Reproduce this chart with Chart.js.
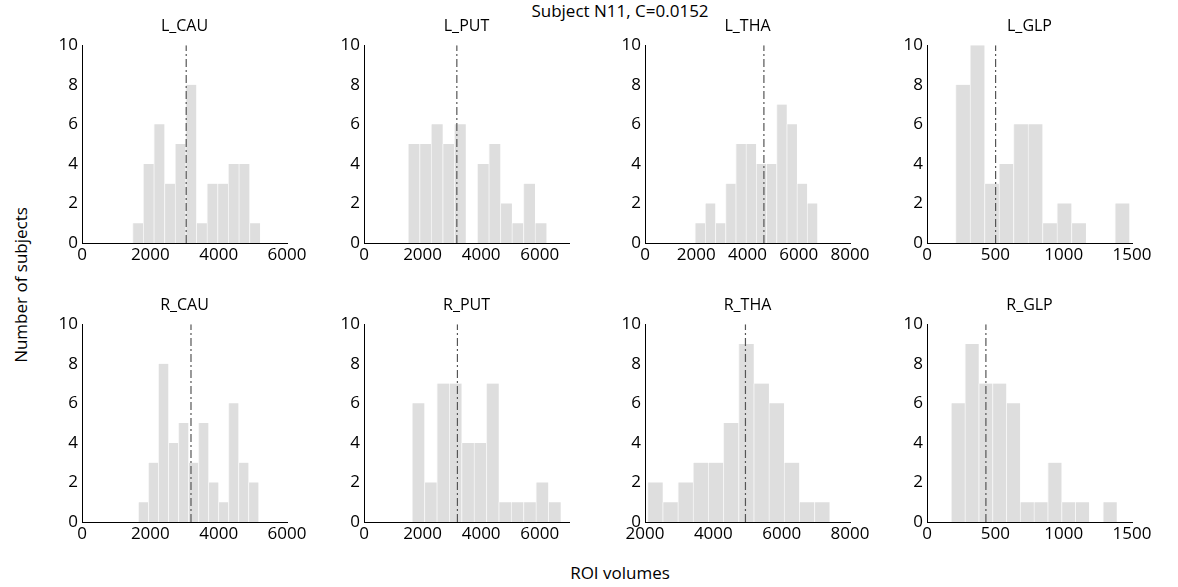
<!DOCTYPE html>
<html>
<head>
<meta charset="utf-8">
<script src="https://cdn.jsdelivr.net/npm/chart.js@4.4.0/dist/chart.umd.min.js"></script>
<style>
    body { margin: 0; background: #fff; width: 1178px; height: 587px; position: relative; overflow: hidden; font-family: 'Open Sans', sans-serif; color: #000; }
    .panel { position: absolute; }
    #suptitle { position: absolute; left: 470px; width: 300px; top: 0px; text-align: center; font-size: 17px; line-height: 22px; }
    #ylabel { position: absolute; left: 20px; top: 285px; transform: translate(-50%, -50%) rotate(-90deg); font-size: 17px; white-space: nowrap; }
    #xlabel { position: absolute; left: 620px; top: 572px; transform: translate(-50%, -50%); font-size: 17px; white-space: nowrap; }
</style>
</head>
<body>
<div id="suptitle">Subject N11, C=0.0152</div>
<div id="ylabel">Number of subjects</div>
<div id="xlabel">ROI volumes</div>

<script>
const panelTitles = ['L_CAU', 'L_PUT', 'L_THA', 'L_GLP', 'R_CAU', 'R_PUT', 'R_THA', 'R_GLP'];

// histogram bin centres (ROI volume) and number of subjects per bin
const binsLCAU = [1636, 1947, 2258, 2569, 2880, 3191, 3502, 3813, 4124, 4435, 4746, 5057];
const countsLCAU = [1, 4, 6, 3, 5, 8, 1, 3, 3, 4, 4, 1];
const binsLPUT = [1702, 2096, 2490, 2884, 3278, 3672, 4066, 4460, 4854, 5248, 5642, 6036];
const countsLPUT = [5, 5, 6, 5, 6, 0, 4, 5, 2, 1, 3, 1];
const binsLTHA = [2149, 2547, 2945, 3343, 3741, 4139, 4537, 4935, 5333, 5731, 6129, 6527];
const countsLTHA = [1, 2, 1, 3, 5, 5, 4, 4, 7, 6, 3, 2];
const binsLGLP = [262, 368, 474, 580, 686, 792, 898, 1004, 1110, 1216, 1322, 1428];
const countsLGLP = [8, 10, 3, 4, 6, 6, 1, 2, 1, 0, 0, 2];
const binsRCAU = [1796, 2089, 2382, 2675, 2968, 3261, 3554, 3847, 4140, 4433, 4726, 5019];
const countsRCAU = [1, 3, 8, 4, 5, 3, 5, 2, 1, 6, 3, 2];
const binsRPUT = [1852, 2275, 2698, 3121, 3544, 3967, 4390, 4813, 5236, 5659, 6082, 6505];
const countsRPUT = [6, 2, 7, 7, 4, 4, 7, 1, 1, 1, 2, 1];
const binsRTHA = [2297, 2741, 3185, 3629, 4073, 4517, 4961, 5405, 5849, 6293, 6737, 7181];
const countsRTHA = [2, 1, 2, 3, 3, 5, 9, 7, 6, 3, 1, 1];
const binsRGLP = [227, 328, 429, 530, 631, 732, 833, 934, 1035, 1136, 1237, 1338];
const countsRGLP = [6, 9, 7, 7, 6, 1, 1, 3, 1, 1, 0, 1];

// volume of subject N11 for each ROI (dash-dot line)
const subjectVolume = [3050, 3170, 4640, 502, 3190, 3190, 4940, 431];

// axis ranges and tick labels
const xMin = [0, 0, 0, 0, 0, 0, 2000, 0];
const xMax = [6000, 7000, 8000, 1500, 6000, 7000, 8000, 1500];
const xTicksCAU = [0, 2000, 4000, 6000];
const xTicksPUT = [0, 2000, 4000, 6000];
const xTicksTHA = [0, 2000, 4000, 6000, 8000];
const xTicksRTHA = [2000, 4000, 6000, 8000];
const xTicksGLP = [0, 500, 1000, 1500];
const yTicks = [0, 2, 4, 6, 8, 10];

const panelBins = [binsLCAU, binsLPUT, binsLTHA, binsLGLP, binsRCAU, binsRPUT, binsRTHA, binsRGLP];
const panelCounts = [countsLCAU, countsLPUT, countsLTHA, countsLGLP, countsRCAU, countsRPUT, countsRTHA, countsRGLP];
const panelTicks = [xTicksCAU, xTicksPUT, xTicksTHA, xTicksGLP, xTicksCAU, xTicksPUT, xTicksRTHA, xTicksGLP];

// layout of the plot areas (px)
const axisLeft = [82, 364, 645, 927];
const plotTop = [45, 324];
const plotW = 205, plotH = 198;
const yAxisW = 44, titleH = 30, xAxisH = 26, padRight = 26;

const tickFont = { family: "'Open Sans', sans-serif", size: 17 };

panelTitles.forEach((name, i) => {
    const col = i % 4, row = Math.floor(i / 4);
    const canvas = document.createElement('canvas');
    canvas.className = 'panel';
    canvas.width = yAxisW + plotW + padRight;
    canvas.height = titleH + plotH + xAxisH;
    canvas.style.left = (axisLeft[col] - yAxisW) + 'px';
    canvas.style.top = (plotTop[row] - titleH) + 'px';
    document.body.appendChild(canvas);

    new Chart(canvas.getContext('2d'), {
        type: 'bar',
        data: {
            datasets: [
                {
                    type: 'line',
                    data: [{ x: subjectVolume[i], y: 0 }, { x: subjectVolume[i], y: 10 }],
                    borderColor: '#555555',
                    borderWidth: 1.2,
                    borderDash: [8, 3, 2, 3],
                    pointRadius: 0,
                    fill: false,
                    order: 1
                },
                {
                    type: 'bar',
                    data: panelBins[i].map((b, k) => ({ x: b, y: panelCounts[i][k] })),
                    backgroundColor: '#dedede',
                    borderColor: '#f6f6f6',
                    borderWidth: { left: 1, right: 0, top: 0, bottom: 0 },
                    borderSkipped: false,
                    barPercentage: 1.0,
                    categoryPercentage: 1.0,
                    order: 2
                }
            ]
        },
        options: {
            responsive: false,
            animation: false,
            events: [],
            layout: { padding: { left: 0, right: padRight, top: 0, bottom: 0 } },
            plugins: {
                legend: { display: false },
                tooltip: { enabled: false },
                title: {
                    display: true,
                    text: name,
                    fullSize: false,
                    color: '#000',
                    font: { family: "'Open Sans', sans-serif", size: 16, weight: 'normal' },
                    padding: { top: 2, bottom: 9 }
                }
            },
            scales: {
                x: {
                    type: 'linear',
                    min: xMin[i],
                    max: xMax[i],
                    offset: false,
                    grid: { display: false, drawTicks: false, offset: false },
                    border: { display: true, color: '#000', width: 1 },
                    ticks: { color: '#000', font: tickFont, padding: 2, maxRotation: 0, callback: v => String(v) },
                    afterBuildTicks: s => { s.ticks = panelTicks[i].map(v => ({ value: v })); },
                    afterFit: s => { s.height = xAxisH; }
                },
                y: {
                    min: 0,
                    max: 10,
                    grid: { display: false, drawTicks: false },
                    border: { display: true, color: '#000', width: 1 },
                    ticks: { color: '#000', font: tickFont, padding: 4, callback: v => String(v) },
                    afterBuildTicks: s => { s.ticks = yTicks.map(v => ({ value: v })); },
                    afterFit: s => { s.width = yAxisW; }
                }
            }
        }
    });
});
</script>
</body>
</html>
